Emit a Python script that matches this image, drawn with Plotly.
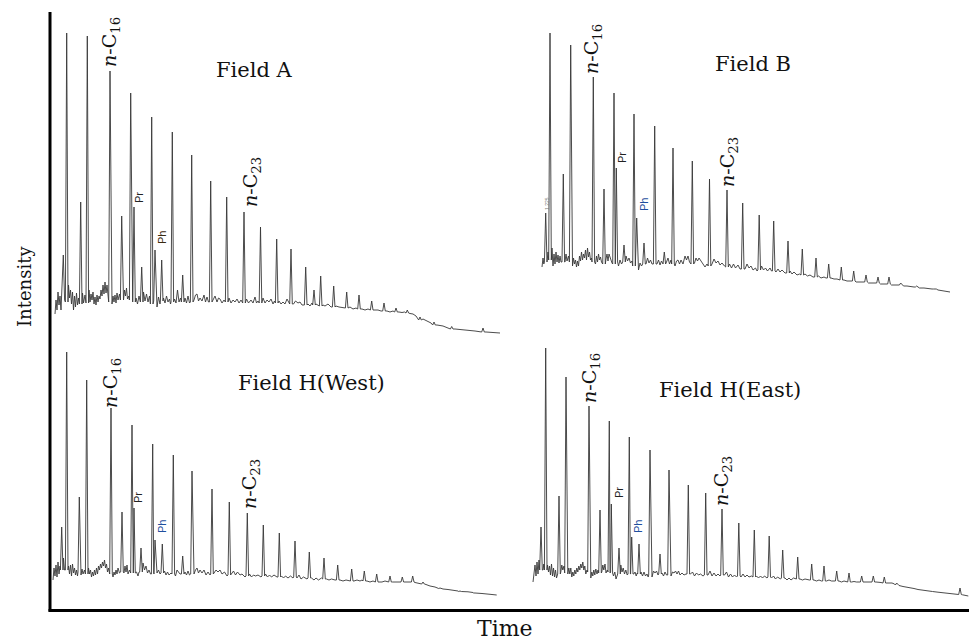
import plotly.graph_objects as go

# ---------------- DATA (retention time in arbitrary min, intensity in arbitrary units) -------------
# Field A
A_peak_t = [1.33, 1.67, 3.07, 3.73, 6.0, 7.17, 8.07, 8.4, 9.17, 10.17, 10.5, 11.17, 12.23, 13.27, 14.17,
            16.07, 17.67, 19.4, 21.05, 22.67, 24.1, 25.57, 26.4, 27.07, 28.37, 29.67, 30.9, 32.17, 33.4,
            34.6, 35.73, 37.0, 38.4, 40.17, 43.3]
A_peak_apex = [85, 307, 138, 304, 269, 124, 247, 133, 73, 223, 90, 80, 208, 65, 185,
               159, 143, 128, 113, 101, 91, 73, 50, 64, 54, 48, 45, 39, 37,
               32, 30, 23, 18, 13.5, 12]
A_peak_base = [40, 38, 36, 37, 38, 40, 40, 38, 38, 36, 39, 39, 38, 38, 38,
               38, 38, 37, 37, 37, 36, 35, 35, 34, 33, 32, 31, 30, 29,
               28, 27, 20, 15, 11, 8]
A_noise = [(0.5, 26), (0.6, 40), (0.7, 30), (0.8, 48), (0.9, 35), (1.0, 44), (1.1, 30), (1.18, 52),
           (1.85, 55), (1.95, 42), (2.05, 50), (2.15, 36), (2.25, 48), (2.35, 30), (2.45, 44), (2.55, 33),
           (2.65, 47), (2.75, 35), (2.85, 42), (3.25, 47), (3.35, 37), (3.5, 45), (3.9, 50), (4.0, 38),
           (4.1, 46), (4.2, 40), (4.3, 48), (4.4, 36), (4.5, 43), (4.6, 35), (4.7, 45), (4.8, 38),
           (4.9, 44), (5.0, 41), (5.1, 50), (5.2, 44), (5.3, 55), (5.4, 46), (5.5, 58), (5.6, 47),
           (5.7, 55), (5.8, 45), (6.2, 36), (6.3, 44), (6.4, 38), (6.5, 45), (6.6, 37), (6.7, 47),
           (6.8, 40), (6.95, 46), (7.35, 40), (7.45, 50), (7.55, 44), (7.65, 52), (7.75, 41), (7.88, 44),
           (8.6, 42), (8.75, 36), (8.9, 44), (9.35, 48), (9.5, 39), (9.65, 46), (9.8, 38), (9.95, 44),
           (10.7, 33), (10.85, 43), (11.0, 36), (11.35, 42), (11.5, 37), (11.65, 44), (11.8, 38),
           (11.95, 41), (12.05, 36), (12.45, 41), (12.6, 37), (12.75, 50), (12.9, 38), (13.05, 42),
           (13.5, 42), (13.65, 37), (13.8, 44), (13.95, 37), (14.4, 40), (14.55, 45), (14.7, 46),
           (14.85, 39), (15.0, 42), (15.2, 39), (15.4, 45), (15.55, 38), (15.7, 43), (15.85, 38),
           (16.3, 40), (16.5, 44), (16.7, 38), (16.85, 42), (17.0, 41), (17.2, 37), (17.4, 40),
           (17.9, 42), (18.1, 37), (18.3, 40), (18.5, 38), (18.7, 41), (18.9, 37), (19.1, 40),
           (19.65, 41), (19.85, 37), (20.1, 40), (20.3, 37), (20.5, 43), (20.65, 37), (20.8, 39),
           (21.3, 42), (21.5, 37), (21.7, 40), (21.9, 38), (22.1, 41), (22.3, 36), (22.45, 39),
           (22.9, 39), (23.1, 36), (23.3, 38), (23.5, 36), (23.7, 41), (23.9, 37), (24.35, 36),
           (24.55, 39), (24.8, 37), (25.0, 38), (25.2, 35), (25.8, 36), (26.0, 34), (26.2, 37),
           (26.6, 36), (26.85, 34), (27.3, 35), (27.5, 34), (27.8, 36), (28.1, 33), (28.6, 34),
           (28.9, 33), (29.3, 32), (30.0, 33), (30.3, 31), (30.6, 32), (31.2, 31), (31.5, 30),
           (31.8, 31), (32.5, 30), (32.8, 30), (33.1, 29), (33.7, 29), (34.0, 28), (34.3, 29),
           (34.9, 28), (35.2, 27.5), (35.45, 28), (36.0, 26.5), (36.3, 26), (36.6, 24), (37.3, 21),
           (37.7, 19), (38.1, 17), (38.7, 15), (39.3, 14), (39.8, 12.5), (40.5, 11), (40.8, 10.5),
           (41.5, 10), (42.5, 9), (43.6, 8), (44.2, 7.5), (45.0, 7)]

# Field B
B_peak_t = [1.57, 2.0, 3.33, 4.07, 6.33, 7.4, 8.4, 8.63, 9.4, 10.4, 10.67, 11.4, 12.47, 13.43, 14.3,
            16.23, 17.95, 19.7, 21.27, 22.92, 24.37, 25.8, 27.23, 28.6, 29.87, 31.13, 32.37, 33.6,
            34.8, 35.9, 37.07, 38.67, 40.5]
B_peak_apex = [127, 307, 166, 295, 263, 151, 247, 172, 95, 226, 122, 97, 214, 88, 192,
               179, 161, 150, 137, 125, 119, 99, 91, 82, 76, 73, 69, 65,
               63, 63, 57, 54, 51]
B_peak_base = [78, 80, 78, 78, 78, 76, 76, 78, 78, 74, 76, 76, 76, 76, 76,
               76, 74, 73, 71, 70, 69, 67, 65, 63, 62, 60, 59, 58,
               57, 56, 55, 53, 51]
B_noise = [(1.2, 73), (1.3, 82), (1.38, 76), (1.8, 88), (1.88, 80), (2.2, 92), (2.3, 74), (2.4, 86),
           (2.5, 76), (2.6, 88), (2.7, 78), (2.8, 85), (2.9, 77), (3.0, 84), (3.1, 78), (3.18, 82),
           (3.5, 78), (3.6, 86), (3.7, 79), (3.85, 84), (4.25, 74), (4.35, 82), (4.45, 76), (4.55, 80),
           (4.65, 73), (4.75, 79), (4.85, 74), (4.95, 84), (5.05, 79), (5.15, 88), (5.25, 80), (5.35, 86),
           (5.45, 82), (5.55, 90), (5.65, 80), (5.75, 92), (5.85, 83), (5.95, 88), (6.05, 80), (6.15, 82),
           (6.55, 76), (6.65, 84), (6.75, 78), (6.85, 86), (6.95, 80), (7.05, 83), (7.15, 78), (7.6, 81),
           (7.7, 86), (7.8, 79), (7.9, 86), (8.2, 77), (8.85, 74), (9.0, 80), (9.15, 76), (9.6, 84),
           (9.75, 79), (9.9, 82), (10.05, 77), (10.2, 79), (10.85, 70), (11.0, 77), (11.15, 74),
           (11.6, 76), (11.75, 82), (11.9, 77), (12.05, 80), (12.2, 76), (12.7, 76), (12.85, 80),
           (13.0, 75), (13.15, 79), (13.65, 78), (13.8, 82), (13.95, 76), (14.1, 80), (14.5, 74),
           (14.65, 79), (14.8, 80), (14.95, 76), (15.1, 80), (15.3, 76), (15.5, 84), (15.65, 80),
           (15.8, 84), (15.95, 78), (16.45, 77), (16.6, 82), (16.75, 79), (16.9, 82), (17.1, 79),
           (17.3, 76), (17.5, 73), (17.7, 76), (18.2, 76), (18.4, 81), (18.6, 77), (18.8, 79),
           (19.0, 75), (19.2, 77), (19.45, 74), (19.95, 76), (20.15, 72), (20.35, 76), (20.55, 72),
           (20.8, 75), (21.0, 71), (21.5, 71), (21.7, 76), (21.9, 72), (22.1, 74), (22.3, 70),
           (22.55, 72), (22.7, 69), (23.15, 74), (23.35, 70), (23.55, 72), (23.75, 69), (24.0, 72),
           (24.15, 69), (24.6, 68), (24.8, 71), (25.0, 68), (25.2, 70), (25.5, 67), (26.0, 69),
           (26.2, 66), (26.4, 68), (26.7, 65), (26.95, 66), (27.5, 66), (27.75, 64), (28.0, 65),
           (28.3, 63), (28.85, 64), (29.1, 62), (29.4, 63), (29.6, 62), (30.1, 62), (30.4, 61),
           (30.7, 61), (30.9, 60), (31.4, 60), (31.7, 59), (32.0, 59), (32.6, 58), (32.9, 58),
           (33.2, 58), (33.85, 57), (34.1, 57), (34.4, 57), (35.05, 56), (35.35, 56), (35.65, 56),
           (36.15, 55), (36.5, 55), (36.8, 55), (37.35, 54), (37.7, 54), (38.1, 53), (38.4, 53),
           (38.95, 52), (39.4, 52), (39.9, 51), (40.2, 51), (40.8, 50), (41.4, 49), (42.0, 48)]

# Field H (West)
W_peak_t = [1.17, 1.67, 2.93, 3.67, 6.1, 7.2, 8.2, 8.4, 9.1, 10.27, 10.5, 11.23, 12.33, 13.27, 14.2,
            16.2, 17.93, 19.73, 21.33, 22.93, 24.5, 25.93, 27.4, 28.77, 30.17, 31.43, 32.67, 34.0,
            35.23, 36.27, 37.3, 39.0, 41.0, 42.5]
W_peak_apex = [83, 258, 113, 230, 202, 98, 185, 102, 62, 166, 70, 66, 155, 54, 139,
               121, 108, 97, 85, 77, 69, 58, 52, 45, 41, 39, 36, 34,
               33, 34, 28, 22, 19, 17]
W_peak_base = [40, 40, 38, 36, 36, 38, 37, 37, 38, 36, 37, 37, 36, 36, 36,
               36, 35, 34, 34, 33, 33, 32, 31, 30, 29, 29, 28, 28,
               28, 28, 26, 21.5, 18.5, 17]
W_noise = [(0.3, 30), (0.4, 42), (0.5, 34), (0.6, 45), (0.7, 33), (0.8, 48), (0.9, 36), (1.0, 44),
           (1.35, 52), (1.45, 40), (1.85, 44), (1.95, 36), (2.05, 45), (2.15, 34), (2.25, 46), (2.35, 37),
           (2.45, 42), (2.55, 35), (2.65, 40), (2.75, 34), (3.1, 35), (3.2, 41), (3.3, 36), (3.45, 40),
           (3.85, 42), (3.95, 36), (4.05, 40), (4.15, 33), (4.25, 38), (4.35, 34), (4.45, 40), (4.55, 35),
           (4.65, 42), (4.75, 36), (4.85, 44), (4.95, 40), (5.05, 46), (5.15, 42), (5.25, 48), (5.35, 44),
           (5.45, 50), (5.55, 42), (5.65, 46), (5.75, 38), (5.85, 42), (6.3, 33), (6.4, 38), (6.5, 35),
           (6.6, 40), (6.7, 36), (6.8, 42), (6.95, 37), (7.4, 37), (7.5, 44), (7.6, 38), (7.7, 45),
           (7.8, 36), (7.95, 40), (8.65, 38), (8.8, 34), (8.9, 38), (9.3, 47), (9.45, 40), (9.6, 44),
           (9.75, 37), (9.9, 40), (10.05, 36), (10.7, 37), (10.85, 40), (11.0, 36), (11.45, 39),
           (11.6, 35), (11.75, 38), (11.9, 35), (12.1, 37), (12.55, 34), (12.7, 40), (12.85, 38),
           (13.0, 36), (13.5, 38), (13.65, 35), (13.8, 39), (13.95, 35), (14.4, 36), (14.55, 40),
           (14.7, 42), (14.85, 37), (15.0, 40), (15.2, 37), (15.4, 40), (15.6, 35), (15.8, 38),
           (16.0, 35), (16.4, 37), (16.6, 40), (16.8, 38), (17.0, 40), (17.2, 36), (17.45, 38),
           (17.7, 34), (18.15, 36), (18.35, 39), (18.55, 35), (18.75, 38), (19.0, 35), (19.2, 36),
           (19.5, 33), (19.95, 36), (20.15, 33), (20.35, 35), (20.55, 34), (20.8, 35), (21.1, 33),
           (21.55, 36), (21.75, 33), (21.95, 35), (22.15, 33), (22.4, 35), (22.7, 33), (23.15, 34),
           (23.35, 32), (23.55, 34), (23.8, 32), (24.05, 34), (24.3, 32), (24.7, 32), (24.9, 35),
           (25.1, 31), (25.35, 33), (25.7, 31), (26.15, 32), (26.4, 30), (26.6, 32), (26.85, 30),
           (27.15, 32), (27.65, 31), (27.9, 30), (28.15, 31), (28.5, 30), (29.0, 30), (29.3, 29),
           (29.6, 30), (29.9, 29), (30.4, 29), (30.7, 30), (31.0, 29), (31.2, 30), (31.7, 29),
           (32.0, 28), (32.3, 29), (32.9, 28), (33.2, 28), (33.5, 29), (33.75, 28), (34.25, 28),
           (34.5, 28), (34.8, 28), (35.0, 28), (35.5, 28), (35.8, 28), (36.05, 28), (36.5, 27.5),
           (36.8, 27), (37.1, 26.5), (37.6, 25.5), (38.0, 24), (38.5, 23), (39.3, 21), (39.8, 20.5),
           (40.3, 20), (40.8, 19), (41.3, 18.5), (41.8, 18.2), (42.3, 17.5), (42.7, 17), (43.2, 16.5),
           (44.0, 15.7), (44.67, 15)]

# Field H (East)
E_peak_t = [1.1, 1.57, 2.9, 3.6, 5.9, 7.0, 7.93, 8.13, 8.9, 9.93, 10.17, 10.9, 12.0, 13.0, 13.9,
            15.83, 17.57, 19.2, 20.88, 22.43, 23.92, 25.27, 26.77, 28.17, 29.4, 30.67, 31.9, 33.17,
            34.33, 35.43, 36.67, 38.17, 40.0, 43.0]
E_peak_apex = [83, 262, 114, 233, 204, 100, 189, 106, 62, 173, 73, 66, 160, 56, 140,
               125, 117, 101, 87, 80, 74, 60, 53, 46, 44, 39, 37, 34,
               34, 33, 27, 22, 19, 22]
E_peak_base = [40, 40, 36, 37, 38, 37, 38, 37, 36, 36, 36, 36, 35, 36, 35,
               36, 35, 35, 34, 33, 33, 32, 31, 30, 29, 29, 28, 28,
               28, 27, 25, 22, 18.5, 15.5]
E_noise = [(0.3, 28), (0.4, 40), (0.5, 45), (0.6, 34), (0.7, 48), (0.8, 36), (0.9, 50), (1.3, 40),
           (1.38, 46), (1.75, 45), (1.85, 38), (1.95, 44), (2.05, 35), (2.15, 46), (2.25, 34), (2.35, 42),
           (2.45, 33), (2.55, 40), (2.65, 32), (2.75, 38), (3.08, 38), (3.18, 45), (3.28, 40), (3.4, 44),
           (3.78, 36), (3.88, 42), (3.98, 36), (4.08, 42), (4.18, 33), (4.28, 38), (4.38, 34), (4.48, 40),
           (4.58, 36), (4.68, 42), (4.78, 38), (4.88, 44), (4.98, 40), (5.08, 46), (5.18, 42), (5.28, 48),
           (5.38, 40), (5.48, 44), (5.58, 36), (5.7, 40), (6.08, 32), (6.18, 38), (6.28, 34), (6.38, 40),
           (6.48, 35), (6.58, 41), (6.7, 36), (6.8, 40), (7.18, 38), (7.28, 45), (7.38, 40), (7.5, 46),
           (7.6, 37), (7.73, 40), (8.35, 34), (8.48, 38), (8.6, 31), (8.7, 34), (9.08, 45), (9.2, 38),
           (9.32, 42), (9.45, 36), (9.58, 40), (9.72, 35), (10.38, 36), (10.5, 38), (10.62, 34),
           (10.72, 37), (11.1, 38), (11.25, 34), (11.4, 38), (11.55, 34), (11.7, 36), (11.82, 33),
           (12.2, 33), (12.35, 39), (12.5, 37), (12.65, 39), (12.8, 35), (13.2, 37), (13.35, 34),
           (13.5, 38), (13.65, 35), (14.1, 34), (14.25, 38), (14.4, 37), (14.55, 39), (14.7, 36),
           (14.85, 39), (15.0, 35), (15.2, 37), (15.4, 35), (15.6, 36), (16.05, 36), (16.25, 38),
           (16.45, 34), (16.65, 37), (16.85, 35), (17.05, 36), (17.3, 34), (17.8, 35), (18.0, 39),
           (18.2, 34), (18.4, 37), (18.6, 34), (18.8, 36), (19.0, 34), (19.45, 35), (19.65, 38),
           (19.85, 33), (20.05, 36), (20.25, 33), (20.45, 35), (20.65, 33), (21.1, 33), (21.3, 36),
           (21.5, 33), (21.7, 35), (21.9, 33), (22.15, 34), (22.65, 34), (22.85, 32), (23.05, 34),
           (23.25, 32), (23.45, 34), (23.7, 32), (24.15, 32), (24.35, 34), (24.55, 31), (24.75, 33),
           (25.05, 31), (25.5, 32), (25.7, 30), (25.9, 32), (26.1, 30), (26.35, 32), (26.55, 31),
           (27.0, 31), (27.25, 30), (27.5, 31), (27.75, 30), (27.95, 30), (28.4, 30), (28.65, 29),
           (28.9, 30), (29.15, 29), (29.65, 29), (29.9, 30), (30.15, 29), (30.4, 29), (30.9, 29),
           (31.15, 28), (31.4, 29), (31.65, 28), (32.15, 28), (32.4, 28.5), (32.65, 28), (32.9, 28),
           (33.4, 28), (33.65, 28), (33.9, 28), (34.1, 28), (34.6, 28), (34.85, 28), (35.1, 27.5),
           (35.65, 27), (35.9, 27), (36.2, 27), (36.45, 26), (36.9, 24.5), (37.3, 23.5), (37.7, 23),
           (37.95, 22.5), (38.4, 21.5), (38.8, 20.5), (39.2, 19.8), (39.6, 19.3), (40.25, 18.5),
           (40.8, 17.8), (41.5, 17), (42.0, 16.5), (42.5, 16), (42.8, 15.8), (43.25, 15.2), (43.6, 14.6),
           (43.83, 14)]

panel_names = ["Field A", "Field B", "Field H(West)", "Field H(East)"]

# ---------------- LAYOUT HELPERS -------------
W, H = 969, 641
def fx(x):
    return x / W
def fy(y):
    return 1 - y / H

HW = 0.13  # half width of a peak (style)

def chromatogram(pt, pa, pb, noise):
    pts = []
    for t, a, b in zip(pt, pa, pb):
        pts += [(t - HW, b), (t, a), (t + HW, b)]
    for t, v in noise:
        if all(abs(t - p) > HW + 0.02 for p in pt):
            pts.append((t, v))
    pts.sort(key=lambda p: p[0])
    return [p[0] for p in pts], [p[1] for p in pts]

datasets = [
    (A_peak_t, A_peak_apex, A_peak_base, A_noise),
    (B_peak_t, B_peak_apex, B_peak_base, B_noise),
    (W_peak_t, W_peak_apex, W_peak_base, W_noise),
    (E_peak_t, E_peak_apex, E_peak_base, E_noise),
]
# pixel boxes: (left, right, top, bottom) ; 1 time unit = 10 px, 1 intensity unit = 1 px
boxes = [(50, 510, 20, 340), (530, 969, 20, 340), (50, 510, 340, 610), (530, 969, 340, 610)]

fig = go.Figure()
layout = dict(
    width=W, height=H, margin=dict(l=0, r=0, t=0, b=0),
    paper_bgcolor="white", plot_bgcolor="rgba(0,0,0,0)", showlegend=False,
)
for i, (ds, box) in enumerate(zip(datasets, boxes)):
    x, y = chromatogram(*ds)
    n = "" if i == 0 else str(i + 1)
    fig.add_trace(go.Scatter(x=x, y=y, mode="lines", line=dict(color="#383838", width=0.9),
                             xaxis="x" + n, yaxis="y" + n, hoverinfo="skip"))
    l, r, t, b = box
    layout["xaxis" + n] = dict(domain=[fx(l), fx(r)], range=[0, (r - l) / 10], visible=False,
                               anchor="y" + n)
    layout["yaxis" + n] = dict(domain=[fy(b), fy(t)], range=[0, b - t], visible=False,
                               anchor="x" + n)
fig.update_layout(**layout)

serif = "DejaVu Serif"
ann = []
# field titles
for name, (cx, cy) in zip(panel_names, [(254, 70), (753, 64), (311, 383), (730, 390)]):
    ann.append(dict(text=name, x=fx(cx), y=fy(cy), xref="paper", yref="paper", showarrow=False,
                    xanchor="center", yanchor="middle", font=dict(family=serif, size=21, color="#111")))
# n-alkane labels
nlab = "<i>n</i>-C<sub>%s</sub>"
for num, (cx, cy) in [("16", (111, 42)), ("23", (251, 182)), ("16", (593, 49)), ("23", (729, 162)),
                      ("16", (111, 383)), ("23", (250, 484)), ("16", (590, 378)), ("23", (722, 481))]:
    ann.append(dict(text=nlab % num, x=fx(cx), y=fy(cy), xref="paper", yref="paper", showarrow=False,
                    textangle=-90, xanchor="center", yanchor="middle",
                    font=dict(family=serif, size=19, color="#111")))
# Pr / Ph labels
for txt, (cx, cy), col in [("Pr", (139, 198), "#222"), ("Ph", (162, 238), "#3a2a10"),
                           ("Pr", (622, 158), "#222"), ("Ph", (644, 205), "#1f4f9e"),
                           ("Pr", (138, 498), "#222"), ("Ph", (162, 527), "#1f4f9e"),
                           ("Pr", (619, 493), "#222"), ("Ph", (638, 527), "#1f4f9e")]:
    ann.append(dict(text=txt, x=fx(cx), y=fy(cy), xref="paper", yref="paper", showarrow=False,
                    textangle=-90, xanchor="center", yanchor="middle",
                    font=dict(family="Liberation Sans", size=11, color=col)))
ann.append(dict(text="1.225", x=fx(546.5), y=fy(203.5), xref="paper", yref="paper", showarrow=False,
                textangle=-90, xanchor="center", yanchor="middle",
                font=dict(family="Liberation Sans", size=5, color="#777")))
# axis titles
ann.append(dict(text="Intensity", x=fx(24), y=fy(287), xref="paper", yref="paper", showarrow=False,
                textangle=-90, xanchor="center", yanchor="middle",
                font=dict(family=serif, size=18, color="#111")))
ann.append(dict(text="Time", x=fx(505), y=fy(628), xref="paper", yref="paper", showarrow=False,
                xanchor="center", yanchor="middle", font=dict(family=serif, size=22, color="#111")))
fig.update_layout(annotations=ann)

# frame (L-shaped axes)
fig.update_layout(shapes=[
    dict(type="line", xref="paper", yref="paper", x0=fx(50), x1=fx(50), y0=fy(12), y1=fy(611.5),
         line=dict(color="black", width=3)),
    dict(type="line", xref="paper", yref="paper", x0=fx(48.5), x1=fx(969), y0=fy(610.5), y1=fy(610.5),
         line=dict(color="black", width=3)),
])

fig.write_html("out.html")
